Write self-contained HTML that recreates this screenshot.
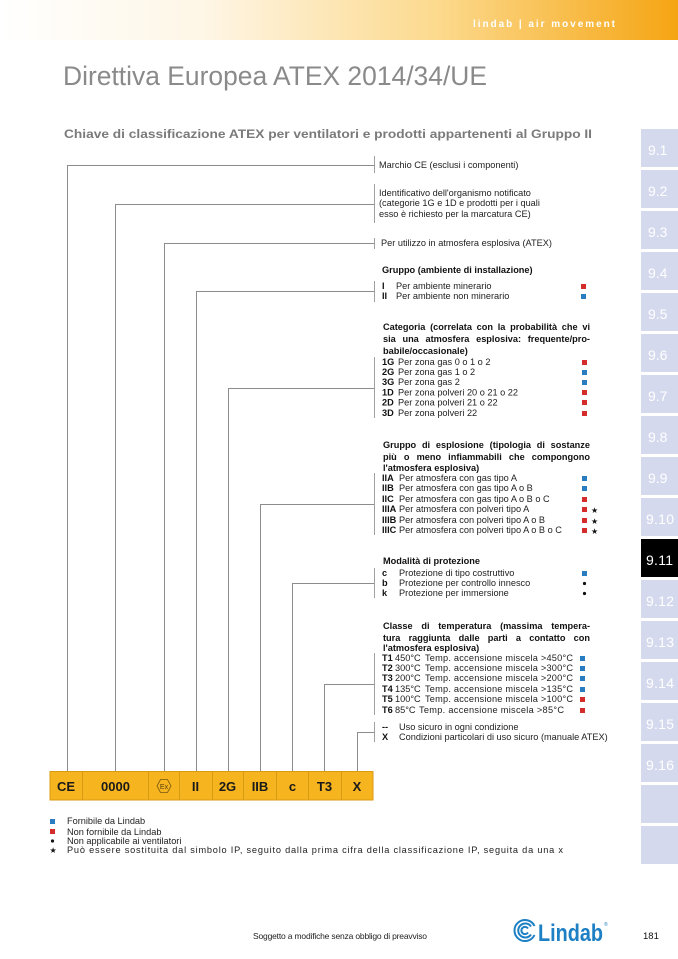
<!DOCTYPE html>
<html><head><meta charset="utf-8"><style>
html,body{margin:0;padding:0;background:#fff;}
body{position:relative;width:678px;height:959px;overflow:hidden;}
svg{display:block;font-family:"Liberation Sans",Arial,sans-serif;position:absolute;left:0;top:0;}
.t{font-size:9.2px;fill:#222;}
.b{font-size:9.2px;fill:#111;font-weight:bold;}
.tab{font-size:14px;fill:#fff;}
.j{position:absolute;left:383px;width:207px;font-family:"Liberation Sans",Arial,sans-serif;font-weight:bold;font-size:9.2px;line-height:10px;text-align:justify;text-align-last:justify;color:#111;margin:0;padding:0;}
</style></head><body>
<svg width="678" height="959" viewBox="0 0 678 959" xmlns="http://www.w3.org/2000/svg">
<defs>
<linearGradient id="hg" x1="0" y1="0" x2="1" y2="0">
<stop offset="0" stop-color="#ffffff"/>
<stop offset="0.3" stop-color="#fef6e6"/>
<stop offset="0.65" stop-color="#fcd98c"/>
<stop offset="1" stop-color="#f5a513"/>
</linearGradient>
</defs>
<rect x="0" y="0" width="678" height="40" fill="url(#hg)"/>
<text x="473" y="27" font-size="10" font-weight="bold" fill="#fff" textLength="142" lengthAdjust="spacing">lindab  |  air movement</text>

<text x="63" y="85" font-size="27" fill="#8a8a8a" textLength="424" lengthAdjust="spacingAndGlyphs">Direttiva Europea ATEX 2014/34/UE</text>
<text x="64" y="138" font-size="12" font-weight="bold" fill="#7a7a7a" textLength="528" lengthAdjust="spacingAndGlyphs">Chiave di classificazione ATEX per ventilatori e prodotti appartenenti al Gruppo II</text>

<!-- tabs -->
<g>
<rect x="641" y="129" width="37" height="38" fill="#d5d9ee"/><text class="tab" x="648" y="155">9.1</text>
<rect x="641" y="170" width="37" height="38" fill="#d5d9ee"/><text class="tab" x="648" y="196">9.2</text>
<rect x="641" y="211" width="37" height="38" fill="#d5d9ee"/><text class="tab" x="648" y="237">9.3</text>
<rect x="641" y="252" width="37" height="38" fill="#d5d9ee"/><text class="tab" x="648" y="278">9.4</text>
<rect x="641" y="293" width="37" height="38" fill="#d5d9ee"/><text class="tab" x="648" y="319">9.5</text>
<rect x="641" y="334" width="37" height="38" fill="#d5d9ee"/><text class="tab" x="648" y="360">9.6</text>
<rect x="641" y="375" width="37" height="38" fill="#d5d9ee"/><text class="tab" x="648" y="401">9.7</text>
<rect x="641" y="416" width="37" height="38" fill="#d5d9ee"/><text class="tab" x="648" y="442">9.8</text>
<rect x="641" y="457" width="37" height="38" fill="#d5d9ee"/><text class="tab" x="648" y="483">9.9</text>
<rect x="641" y="498" width="37" height="38" fill="#d5d9ee"/><text class="tab" x="646" y="524" textLength="28">9.10</text>
<rect x="641" y="539" width="37" height="38" fill="#000"/><text class="tab" x="646" y="565" textLength="27" fill="#fff">9.11</text>
<rect x="641" y="580" width="37" height="38" fill="#d5d9ee"/><text class="tab" x="646" y="606" textLength="28">9.12</text>
<rect x="641" y="621" width="37" height="38" fill="#d5d9ee"/><text class="tab" x="646" y="647" textLength="28">9.13</text>
<rect x="641" y="662" width="37" height="38" fill="#d5d9ee"/><text class="tab" x="646" y="688" textLength="28">9.14</text>
<rect x="641" y="703" width="37" height="38" fill="#d5d9ee"/><text class="tab" x="646" y="729" textLength="28">9.15</text>
<rect x="641" y="744" width="37" height="38" fill="#d5d9ee"/><text class="tab" x="646" y="770" textLength="28">9.16</text>
<rect x="641" y="785" width="37" height="38" fill="#d5d9ee"/>
<rect x="641" y="826" width="37" height="38" fill="#d5d9ee"/>
</g>

<!-- connector lines -->
<g stroke="#8c8c8c" stroke-width="1" fill="none">
<path d="M67.5 771 V165.5 H374"/>
<path d="M115.5 771 V204.5 H374"/>
<path d="M164.5 771 V243.5 H374"/>
<path d="M196.5 771 V291.5 H374"/>
<path d="M228.5 771 V388.5 H374"/>
<path d="M260.5 771 V504.5 H374"/>
<path d="M292.5 771 V583.5 H374"/>
<path d="M324.5 771 V684.5 H374"/>
<path d="M357.5 771 V732.5 H374"/>
</g>
<g stroke="#a0a0a0" stroke-width="1">
<line x1="374.5" y1="156" x2="374.5" y2="173"/>
<line x1="374.5" y1="184" x2="374.5" y2="223"/>
<line x1="374.5" y1="238" x2="374.5" y2="249"/>
<line x1="374.5" y1="281" x2="374.5" y2="302"/>
<line x1="374.5" y1="357" x2="374.5" y2="418"/>
<line x1="374.5" y1="473" x2="374.5" y2="535"/>
<line x1="374.5" y1="568" x2="374.5" y2="598"/>
<line x1="374.5" y1="653" x2="374.5" y2="715"/>
<line x1="374.5" y1="722" x2="374.5" y2="742"/>
</g>

<!-- text blocks -->
<text class="t" x="379" y="168">Marchio CE (esclusi i componenti)</text>
<text class="t" x="379" y="196">Identificativo  dell'organismo  notificato</text>
<text class="t" x="379" y="206">(categorie 1G e 1D e prodotti per i quali</text>
<text class="t" x="379" y="217">esso è richiesto per la marcatura CE)</text>
<text class="t" x="381" y="246">Per utilizzo in atmosfera esplosiva (ATEX)</text>

<text class="b" x="382" y="273">Gruppo (ambiente di installazione)</text>
<text class="b" x="382" y="289">I</text><text class="t" x="396" y="289">Per ambiente minerario</text>
<text class="b" x="382" y="299">II</text><text class="t" x="396" y="299">Per ambiente non minerario</text>
<rect x="581" y="284" width="5" height="5" fill="#d42b2b"/>
<rect x="581" y="294" width="5" height="5" fill="#2a7cc0"/>

<text class="b" x="383" y="354">babile/occasionale)</text>
<text class="b" x="382" y="365">1G</text><text class="t" x="398" y="365">Per zona gas 0 o 1 o 2</text>
<text class="b" x="382" y="375">2G</text><text class="t" x="398" y="375">Per zona gas 1 o 2</text>
<text class="b" x="382" y="385">3G</text><text class="t" x="398" y="385">Per zona gas  2</text>
<text class="b" x="382" y="395.5">1D</text><text class="t" x="398" y="395.5">Per zona polveri 20 o 21 o 22</text>
<text class="b" x="382" y="405.5">2D</text><text class="t" x="398" y="405.5">Per zona polveri 21 o 22</text>
<text class="b" x="382" y="416">3D</text><text class="t" x="398" y="416">Per zona polveri  22</text>
<rect x="582" y="360" width="5" height="5" fill="#d42b2b"/>
<rect x="582" y="370" width="5" height="5" fill="#2a7cc0"/>
<rect x="582" y="380" width="5" height="5" fill="#2a7cc0"/>
<rect x="582" y="390" width="5" height="5" fill="#d42b2b"/>
<rect x="582" y="400" width="5" height="5" fill="#d42b2b"/>
<rect x="582" y="411" width="5" height="5" fill="#d42b2b"/>

<text class="b" x="383" y="471">l'atmosfera esplosiva)</text>
<text class="b" x="382" y="481">IIA</text><text class="t" x="399" y="481">Per atmosfera con gas tipo A</text>
<text class="b" x="382" y="491">IIB</text><text class="t" x="399" y="491">Per atmosfera con gas tipo A o B</text>
<text class="b" x="382" y="502">IIC</text><text class="t" x="399" y="502">Per atmosfera con gas tipo A o B o C</text>
<text class="b" x="382" y="512">IIIA</text><text class="t" x="399" y="512">Per atmosfera con polveri tipo A</text>
<text class="b" x="382" y="523">IIIB</text><text class="t" x="399" y="523">Per atmosfera con polveri tipo A o B</text>
<text class="b" x="382" y="533">IIIC</text><text class="t" x="399" y="533">Per atmosfera con polveri tipo A o B o C</text>
<rect x="582" y="476" width="5" height="5" fill="#2a7cc0"/>
<rect x="582" y="486" width="5" height="5" fill="#2a7cc0"/>
<rect x="582" y="497" width="5" height="5" fill="#d42b2b"/>
<rect x="582" y="507" width="5" height="5" fill="#d42b2b"/>
<rect x="582" y="518" width="5" height="5" fill="#d42b2b"/>
<rect x="582" y="528" width="5" height="5" fill="#d42b2b"/>
<text x="591" y="513" font-size="8" fill="#111">★</text>
<text x="591" y="524" font-size="8" fill="#111">★</text>
<text x="591" y="534" font-size="8" fill="#111">★</text>

<text class="b" x="383" y="564">Modalità di protezione</text>
<text class="b" x="382" y="576">c</text><text class="t" x="399" y="576">Protezione  di tipo costruttivo</text>
<text class="b" x="382" y="586">b</text><text class="t" x="399" y="586">Protezione per controllo innesco</text>
<text class="b" x="382" y="596">k</text><text class="t" x="399" y="596">Protezione per immersione</text>
<rect x="582" y="571" width="5" height="5" fill="#2a7cc0"/>
<circle cx="584.5" cy="583.5" r="1.6" fill="#111"/>
<circle cx="584.5" cy="593.5" r="1.6" fill="#111"/>

<text class="b" x="383" y="651">l'atmosfera esplosiva)</text>
<text class="b" x="382" y="661">T1</text><text class="t" x="395" y="661">450°C</text><text class="t" x="425" y="661" textLength="148" lengthAdjust="spacing">Temp. accensione miscela &gt;450°C</text>
<text class="b" x="382" y="671">T2</text><text class="t" x="395" y="671">300°C</text><text class="t" x="425" y="671" textLength="148" lengthAdjust="spacing">Temp. accensione miscela &gt;300°C</text>
<text class="b" x="382" y="681">T3</text><text class="t" x="395" y="681">200°C</text><text class="t" x="425" y="681" textLength="148" lengthAdjust="spacing">Temp. accensione miscela &gt;200°C</text>
<text class="b" x="382" y="692">T4</text><text class="t" x="395" y="692">135°C</text><text class="t" x="425" y="692" textLength="148" lengthAdjust="spacing">Temp. accensione miscela &gt;135°C</text>
<text class="b" x="382" y="702">T5</text><text class="t" x="395" y="702">100°C</text><text class="t" x="425" y="702" textLength="148" lengthAdjust="spacing">Temp. accensione miscela &gt;100°C</text>
<text class="b" x="382" y="713">T6</text><text class="t" x="395" y="713">85°C</text><text class="t" x="419" y="713" textLength="145" lengthAdjust="spacing">Temp. accensione miscela &gt;85°C</text>
<rect x="580" y="656" width="5" height="5" fill="#2a7cc0"/>
<rect x="580" y="666" width="5" height="5" fill="#2a7cc0"/>
<rect x="580" y="676" width="5" height="5" fill="#2a7cc0"/>
<rect x="580" y="687" width="5" height="5" fill="#2a7cc0"/>
<rect x="580" y="697" width="5" height="5" fill="#d42b2b"/>
<rect x="580" y="708" width="5" height="5" fill="#d42b2b"/>

<text class="b" x="382" y="730">--</text><text class="t" x="399" y="730">Uso sicuro in ogni condizione</text>
<text class="b" x="382" y="740">X</text><text class="t" x="399" y="740">Condizioni particolari di uso sicuro (manuale ATEX)</text>

<!-- code boxes -->
<rect x="50" y="771.5" width="323" height="28.5" fill="#f6b51e" stroke="#d89a12" stroke-width="1"/>
<g stroke="#d89a12" stroke-width="1">
<line x1="82.5" y1="771" x2="82.5" y2="800"/>
<line x1="148.5" y1="771" x2="148.5" y2="800"/>
<line x1="179.5" y1="771" x2="179.5" y2="800"/>
<line x1="212.5" y1="771" x2="212.5" y2="800"/>
<line x1="243.5" y1="771" x2="243.5" y2="800"/>
<line x1="276.5" y1="771" x2="276.5" y2="800"/>
<line x1="308.5" y1="771" x2="308.5" y2="800"/>
<line x1="341.5" y1="771" x2="341.5" y2="800"/>
</g>
<g font-size="13" font-weight="bold" fill="#1a1a1a" text-anchor="middle">
<text x="66" y="791">CE</text>
<text x="115.5" y="791">0000</text>
<text x="195.5" y="791">II</text>
<text x="227.5" y="791">2G</text>
<text x="260" y="791">IIB</text>
<text x="292.5" y="791">c</text>
<text x="324.5" y="791">T3</text>
<text x="357" y="791">X</text>
</g>
<polygon points="157,786 160.5,779.5 167.5,779.5 171,786 167.5,792.5 160.5,792.5" fill="none" stroke="#7a5a10" stroke-width="0.8"/>
<text x="164" y="789" font-size="7" fill="#5a4010" text-anchor="middle">Ex</text>

<!-- legend -->
<rect x="50" y="819" width="5" height="5" fill="#2a7cc0"/>
<text class="t" x="67" y="824" font-size="8.7">Fornibile da Lindab</text>
<rect x="50" y="829" width="5" height="5" fill="#d42b2b"/>
<text class="t" x="67" y="835" font-size="8.7">Non fornibile da Lindab</text>
<circle cx="52.5" cy="841" r="1.6" fill="#111"/>
<text class="t" x="67" y="844" font-size="8.7">Non applicabile ai ventilatori</text>
<text x="49.5" y="853" font-size="8" fill="#111">★</text>
<text class="t" x="67" y="853" font-size="9.2" textLength="496" lengthAdjust="spacing">Può essere sostituita dal simbolo IP, seguito dalla prima cifra della classificazione IP, seguita da una x</text>

<!-- footer -->
<text x="253" y="939" font-size="8.5" fill="#222" textLength="174">Soggetto a modifiche senza obbligo di preavviso</text>
<g fill="none" stroke="#1d7fc4" stroke-width="2">
<path d="M534.5 926 A10.5 10.5 0 1 0 534.5 935"/>
<path d="M531 926.5 A7 7 0 1 0 531 934.5"/>
<path d="M528 928.5 A3.6 3.6 0 1 0 528 932.5"/>
</g>
<text x="538" y="941" font-size="24" font-weight="bold" fill="#1d7fc4" textLength="65" lengthAdjust="spacingAndGlyphs">Lindab</text>
<text x="604" y="926" font-size="5" fill="#1d7fc4">®</text>
<text x="643" y="939" font-size="9.5" fill="#111">181</text>
</svg>

<div class="j" style="top:321.8px;">Categoria (correlata con la probabilità che vi</div>
<div class="j" style="top:333.8px;">sia una atmosfera esplosiva: frequente/pro-</div>
<div class="j" style="top:439.8px;">Gruppo di esplosione (tipologia di sostanze</div>
<div class="j" style="top:451.8px;">più o meno infiammabili che compongono</div>
<div class="j" style="top:620.8px;">Classe di temperatura (massima tempera-</div>
<div class="j" style="top:632.8px;">tura raggiunta dalle parti a contatto con</div>
</body></html>
